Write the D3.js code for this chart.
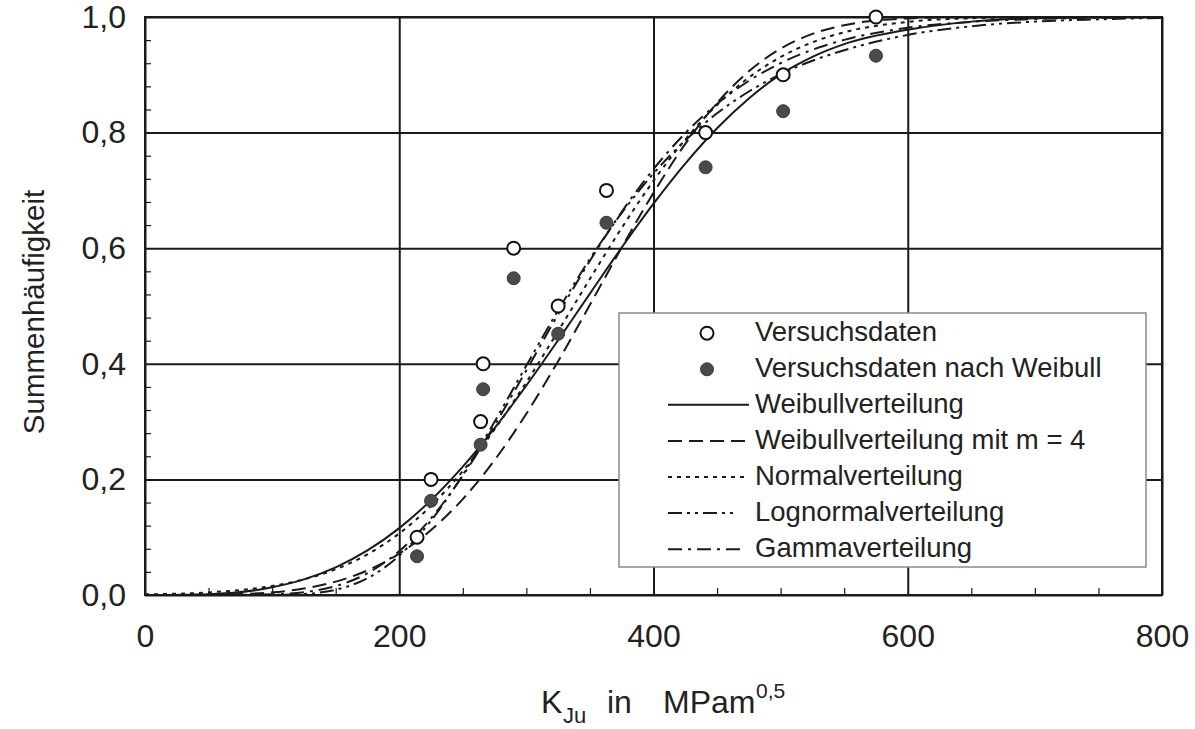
<!DOCTYPE html>
<html><head><meta charset="utf-8">
<script src="https://cdn.jsdelivr.net/npm/d3@7"></script>
<style>
body{margin:0;background:#fff;}
svg{display:block;font-family:"Liberation Sans",Arial,Helvetica,sans-serif;}
</style></head><body>
<svg id="chart" width="1195" height="729"></svg>
<script>
// ---- data ----
const kGrid = [0,50,100,125,150,175,200,225,250,275,300,325,350,375,400,425,450,475,500,525,550,600,650,700,750,800];
const cdfWeibull  = [0,0.0015,0.0133,0.0270,0.0478,0.0771,0.1157,0.1641,0.2220,0.2887,0.3624,0.4409,0.5215,0.6012,0.6770,0.7464,0.8075,0.8590,0.9006,0.9310,0.9530,0.9780,0.9920,0.9980,0.9995,1.0];
const cdfWeibull4 = [0,0.0003,0.0046,0.0113,0.0232,0.0426,0.0717,0.1123,0.1660,0.2334,0.3137,0.4046,0.5021,0.6011,0.6957,0.7805,0.8512,0.9061,0.9452,0.9707,0.9858,0.9976,0.9998,1.0,1.0,1.0];
const cdfNormal   = [0.0011,0.0045,0.0156,0.0270,0.0446,0.0704,0.1065,0.1543,0.2145,0.2865,0.3683,0.4566,0.5470,0.6351,0.7166,0.7881,0.8479,0.8952,0.9308,0.9563,0.9736,0.9916,0.9978,0.9995,0.9999,1.0];
const cdfLognormal= [0,0,0.0002,0.0018,0.0091,0.0291,0.0681,0.1286,0.2079,0.2999,0.3970,0.4926,0.5816,0.6610,0.7293,0.7865,0.8334,0.8711,0.9010,0.9243,0.9425,0.9690,0.9840,0.9920,0.9960,0.9985];
const cdfGamma    = [0,0,0.0011,0.0049,0.0154,0.0377,0.0760,0.1326,0.2065,0.2938,0.3889,0.4856,0.5783,0.6629,0.7368,0.7990,0.8496,0.8895,0.9202,0.9434,0.9604,0.9814,0.9916,0.9964,0.9985,0.9994];

const kData    = [214,225,264,266,290,325,363,441,502,575];
const hExp     = [0.1,0.2,0.3,0.4,0.6,0.5,0.7,0.8,0.9,1.0];
const hWeibull = [0.067,0.163,0.260,0.356,0.548,0.452,0.644,0.740,0.837,0.933];

const xTicks = [0,200,400,600,800];
const xTickLabels = ["0","200","400","600","800"];
const yTicks = [0,0.2,0.4,0.6,0.8,1.0];
const yTickLabels = ["0,0","0,2","0,4","0,6","0,8","1,0"];
const xMinor = [50,100,150,250,300,350,450,500,550,650,700,750];
const yMinor = [0.04,0.08,0.12,0.16,0.24,0.28,0.32,0.36,0.44,0.48,0.52,0.56,0.64,0.68,0.72,0.76,0.84,0.88,0.92,0.96];

const legendLabels = ["Versuchsdaten","Versuchsdaten nach Weibull","Weibullverteilung","Weibullverteilung mit m = 4","Normalverteilung","Lognormalverteilung","Gammaverteilung"];

// ---- drawing ----
const svg = d3.select("#chart");
const L=145, R=1162, T=17, B=595;
const x = d3.scaleLinear().domain([0,800]).range([L,R]);
const y = d3.scaleLinear().domain([0,1]).range([B,T]);
const ink = "#1a1a1a";
const FF = "Liberation Sans, Arial, Helvetica, sans-serif";

svg.append("rect").attr("width",1195).attr("height",729).attr("fill","#fff");

// vertical grid + x labels
const gx = svg.append("g").attr("transform",`translate(0,${B})`)
  .call(d3.axisBottom(x).tickValues(xTicks).tickSize(-(B-T)).tickPadding(29).tickFormat((d,i)=>xTickLabels[i]));
gx.select(".domain").remove();
gx.attr("font-size",32).attr("font-family",FF);
gx.selectAll("line").attr("stroke",ink).attr("stroke-width",2);
gx.selectAll("text").attr("fill","#222");

// horizontal grid + y labels
const gy = svg.append("g").attr("transform",`translate(${L},0)`)
  .call(d3.axisLeft(y).tickValues(yTicks).tickSize(-(R-L)).tickPadding(19).tickFormat((d,i)=>yTickLabels[i]));
gy.select(".domain").remove();
gy.attr("font-size",32).attr("font-family",FF);
gy.selectAll("line").attr("stroke",ink).attr("stroke-width",2);
gy.selectAll("text").attr("fill","#222");

// minor ticks
const mx = svg.append("g").attr("transform",`translate(0,${B})`)
  .call(d3.axisBottom(x).tickValues(xMinor).tickSize(-7).tickFormat(""));
mx.select(".domain").remove();
mx.selectAll("line").attr("stroke",ink).attr("stroke-width",1.2);
const my = svg.append("g").attr("transform",`translate(${L},0)`)
  .call(d3.axisLeft(y).tickValues(yMinor).tickSize(-6).tickFormat(""));
my.select(".domain").remove();
my.selectAll("line").attr("stroke",ink).attr("stroke-width",1.2);

// frame
svg.append("rect").attr("x",L).attr("y",T).attr("width",R-L).attr("height",B-T)
  .attr("fill","none").attr("stroke",ink).attr("stroke-width",2);

// curves
const curves = [
  {vals: cdfWeibull,  dash: null},
  {vals: cdfWeibull4, dash: "14,7"},
  {vals: cdfNormal,   dash: "4,5"},
  {vals: cdfLognormal,dash: "14,5,3,5,3,5"},
  {vals: cdfGamma,    dash: "14,6,3,6"}
];
const line = d3.line().x((d,i)=>x(kGrid[i])).y(d=>y(d)).curve(d3.curveMonotoneX);
svg.append("g").selectAll("path").data(curves).join("path")
  .attr("d", d=>line(d.vals))
  .attr("fill","none").attr("stroke",ink).attr("stroke-width",2)
  .attr("stroke-dasharray", d=>d.dash);

// points
svg.append("g").selectAll("circle").data(kData).join("circle")
  .attr("cx",(d,i)=>x(d)).attr("cy",(d,i)=>y(hWeibull[i])).attr("r",6.5)
  .attr("fill","#4a4a4a").attr("stroke","#3a3a3a").attr("stroke-width",1);
svg.append("g").selectAll("circle").data(kData).join("circle")
  .attr("cx",(d,i)=>x(d)).attr("cy",(d,i)=>y(hExp[i])).attr("r",6.5)
  .attr("fill","#fff").attr("stroke","#111").attr("stroke-width",2);

// legend
const lg = svg.append("g");
lg.append("rect").attr("x",619).attr("y",313).attr("width",527).attr("height",254)
  .attr("fill","#fff").attr("stroke","#8a8a8a").attr("stroke-width",1.5);
const base0 = 340.6, step = 36.1;
const sampleEnd = [749,751,746,738,744];
legendLabels.forEach((lab,i)=>{
  const by = base0 + i*step;
  lg.append("text").attr("x",755).attr("y",by).attr("font-size",27.5).attr("font-family",FF)
    .attr("fill","#222").text(lab);
  if(i===0){
    lg.append("circle").attr("cx",707).attr("cy",by-7.4).attr("r",6.5)
      .attr("fill","#fff").attr("stroke","#111").attr("stroke-width",2);
  } else if(i===1){
    lg.append("circle").attr("cx",707).attr("cy",by-7.4).attr("r",6.5)
      .attr("fill","#4a4a4a").attr("stroke","#3a3a3a").attr("stroke-width",1);
  } else {
    const c = curves[i-2];
    lg.append("line").attr("x1",668).attr("x2",sampleEnd[i-2]).attr("y1",by-8).attr("y2",by-8)
      .attr("stroke",ink).attr("stroke-width",2).attr("stroke-dasharray",c.dash);
  }
});

// axis titles
svg.append("text").attr("transform","translate(44,312) rotate(-90)")
  .attr("text-anchor","middle").attr("font-size",29.5).attr("font-family",FF).attr("fill","#222")
  .text("Summenhäufigkeit");

const xt = svg.append("text").attr("font-family",FF).attr("fill","#222").attr("font-size",32);
xt.append("tspan").attr("x",541).attr("y",713).text("K");
xt.append("tspan").attr("x",563).attr("y",723).attr("font-size",22).text("Ju");
xt.append("tspan").attr("x",607).attr("y",713).text("in");
xt.append("tspan").attr("x",663).attr("y",713).text("MPam");
xt.append("tspan").attr("x",756).attr("y",698).attr("font-size",21).text("0,5");
</script>
</body></html>
